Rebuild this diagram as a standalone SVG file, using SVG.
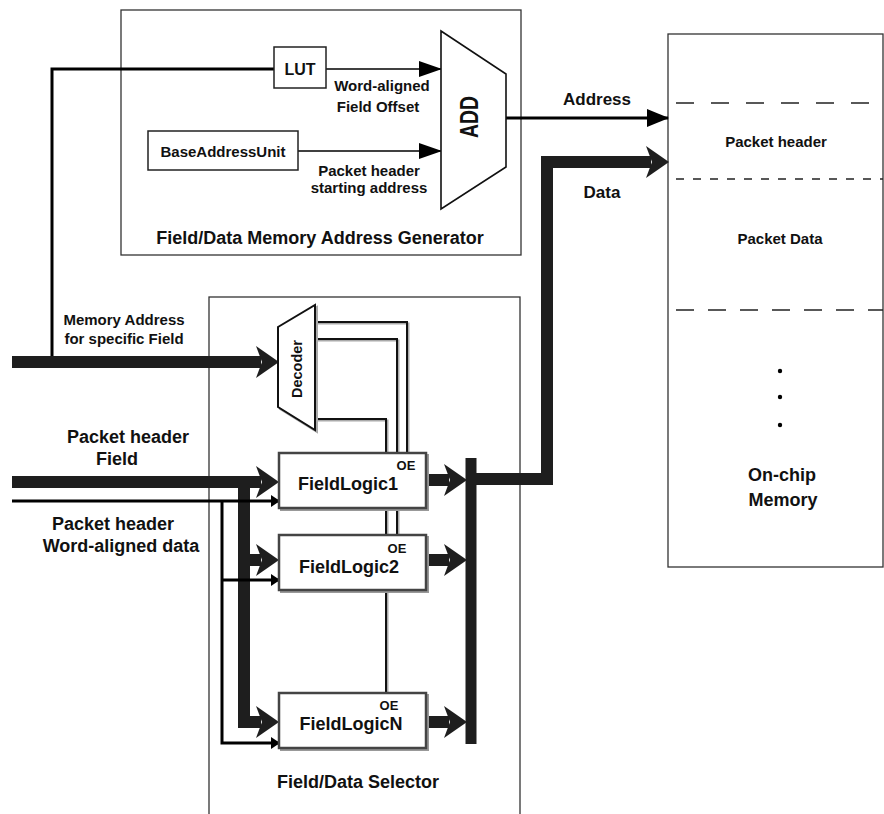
<svg xmlns="http://www.w3.org/2000/svg" width="884" height="814" viewBox="0 0 884 814">
<style>
text{font-family:"Liberation Sans",Arial,sans-serif;font-weight:bold;fill:#111;text-anchor:middle}
.frame{fill:none;stroke:#333;stroke-width:1.3}
.box{fill:#fff;stroke:#222;stroke-width:1.5}
.fl{fill:#fff;stroke:#444;stroke-width:2.5}
.flsh{fill:none;stroke:#999;stroke-width:2}
.bus{fill:none;stroke:#1e1e1e;stroke-width:12;stroke-linejoin:miter}
.thin{fill:none;stroke:#000;stroke-width:3}
.wire{fill:none;stroke:#000;stroke-width:1.5}
.dec{fill:none;stroke:#111;stroke-width:2}
.decsh{fill:none;stroke:#aaa;stroke-width:2}
.dash1{stroke:#222;stroke-width:1.3;stroke-dasharray:18 17}
.dash2{stroke:#222;stroke-width:1.3;stroke-dasharray:8 9}
.dash3{stroke:#222;stroke-width:1.3;stroke-dasharray:18 14}
</style>
<defs>
<marker id="big" markerUnits="userSpaceOnUse" markerWidth="24" markerHeight="34" viewBox="0 0 24 34" refX="5" refY="17" orient="auto">
<path d="M0,1 L23,17 L0,33 L6,17 Z" fill="#1e1e1e"/>
</marker>
<marker id="tri" markerUnits="userSpaceOnUse" markerWidth="23" markerHeight="16" viewBox="0 0 23 16" refX="22" refY="8" orient="auto">
<path d="M0,0 L23,8 L0,16 Z" fill="#000"/>
</marker>
<marker id="addr" markerUnits="userSpaceOnUse" markerWidth="22" markerHeight="18" viewBox="0 0 22 18" refX="21" refY="9" orient="auto">
<path d="M0,0 L22,9 L0,18 Z" fill="#000"/>
</marker>
<marker id="small" markerUnits="userSpaceOnUse" markerWidth="9" markerHeight="12" viewBox="0 0 9 12" refX="8" refY="6" orient="auto">
<path d="M0,0 L9,6 L0,12 Z" fill="#000"/>
</marker>
</defs>

<g id="addrgen">
<rect class="frame" x="121" y="10" width="400" height="245"/>
<text x="320" y="244" font-size="18">Field/Data Memory Address Generator</text>
</g>

<g id="selector">
<rect class="frame" x="209" y="297" width="311" height="530"/>
<text x="358" y="788" font-size="18">Field/Data Selector</text>
</g>

<g id="memory">
<rect class="frame" x="668" y="34" width="215" height="533"/>
<line class="dash1" x1="676" y1="103" x2="883" y2="103"/>
<line class="dash2" x1="676" y1="179" x2="883" y2="179"/>
<line class="dash3" x1="676" y1="310" x2="883" y2="310"/>
<text x="776" y="147" font-size="15">Packet header</text>
<text x="780" y="244" font-size="15">Packet Data</text>
<circle cx="780" cy="371" r="2.2" fill="#000"/>
<circle cx="780" cy="397" r="2.2" fill="#000"/>
<circle cx="780" cy="425" r="2.2" fill="#000"/>
<text x="782" y="481" font-size="18">On-chip</text>
<text x="783" y="506" font-size="18">Memory</text>
</g>

<g id="connectors">
<path class="thin" d="M52,362 V69 H274"/>
<path class="wire" d="M326,69 H441" marker-end="url(#tri)"/>
<path class="wire" d="M298,151 H441" marker-end="url(#tri)"/>
<path class="thin" d="M506,118 H668" marker-end="url(#addr)"/>
<path class="bus" d="M12,362 H261" marker-end="url(#big)"/>
<path class="bus" d="M12,482 H261" marker-end="url(#big)"/>
<path class="bus" d="M244,482 V722 H261" marker-end="url(#big)"/>
<path class="bus" d="M244,560 H261" marker-end="url(#big)"/>
<path class="thin" d="M12,501 H279" marker-end="url(#small)"/>
<path class="thin" d="M222,501 V743 H279" marker-end="url(#small)"/>
<path class="thin" d="M222,580 H279" marker-end="url(#small)"/>
<g transform="translate(1.5,1.5)">
<path class="decsh" d="M315,322 H407 V453"/>
<path class="decsh" d="M315,339 H397 V535"/>
<path class="decsh" d="M315,419 H386 V693"/>
</g>
<path class="dec" d="M315,322 H407 V453"/>
<path class="dec" d="M315,339 H397 V535" stroke="#777"/>
<path class="dec" d="M315,419 H386 V693"/>
<path class="bus" d="M427,480 H449" marker-end="url(#big)"/>
<path class="bus" d="M427,560 H449" marker-end="url(#big)"/>
<path class="bus" d="M427,722 H449" marker-end="url(#big)"/>
<line x1="471" y1="458" x2="471" y2="744" stroke="#1e1e1e" stroke-width="11"/>
<path class="bus" d="M466,479 H547 V162 H651" marker-end="url(#big)"/>
</g>

<g id="lut">
<rect class="box" x="274" y="47" width="52" height="41"/>
<text x="300" y="75" font-size="16">LUT</text>
</g>

<g id="base">
<rect class="box" x="148" y="131" width="150" height="39"/>
<text x="223" y="157" font-size="15">BaseAddressUnit</text>
</g>

<g id="add">
<polygon points="441,31 506,74 506,167 441,209" fill="#fff" stroke="#111" stroke-width="1.6"/>
<text transform="translate(478,117) rotate(-90)" font-size="26" textLength="42" lengthAdjust="spacingAndGlyphs" fill="#1a2540">ADD</text>
</g>

<g id="decoder">
<polygon points="280,329 317,307 317,432 280,409" fill="none" stroke="#aaa" stroke-width="2"/>
<polygon points="278,327 315,305 315,430 278,407" fill="#fff" stroke="#111" stroke-width="2"/>
<text transform="translate(302,369) rotate(-90)" font-size="14.5">Decoder</text>
</g>

<g id="fieldlogic1">
<rect class="flsh" x="281" y="455" width="147" height="55"/>
<rect class="fl" x="279" y="453" width="147" height="55"/>
<text x="348" y="490" font-size="18">FieldLogic1</text>
<text x="406" y="470" font-size="13">OE</text>
</g>

<g id="fieldlogic2">
<rect class="flsh" x="281" y="537" width="147" height="55"/>
<rect class="fl" x="279" y="535" width="147" height="55"/>
<text x="349" y="573" font-size="18">FieldLogic2</text>
<text x="397" y="553" font-size="13">OE</text>
</g>

<g id="fieldlogicN">
<rect class="flsh" x="281" y="695" width="147" height="55"/>
<rect class="fl" x="279" y="693" width="147" height="55"/>
<text x="351" y="730" font-size="18">FieldLogicN</text>
<text x="389" y="710" font-size="13">OE</text>
</g>

<g id="labels">
<text x="382" y="91" font-size="15">Word-aligned</text>
<text x="378" y="112" font-size="15">Field Offset</text>
<text x="369" y="176" font-size="15">Packet header</text>
<text x="369" y="193" font-size="15">starting address</text>
<text x="597" y="105" font-size="17">Address</text>
<text x="602" y="198" font-size="17">Data</text>
<text x="124" y="325" font-size="15">Memory Address</text>
<text x="124" y="344" font-size="15">for specific Field</text>
<text x="128" y="443" font-size="18">Packet header</text>
<text x="117" y="465" font-size="18">Field</text>
<text x="113" y="530" font-size="18">Packet header</text>
<text x="121" y="552" font-size="18">Word-aligned data</text>
</g>
</svg>
